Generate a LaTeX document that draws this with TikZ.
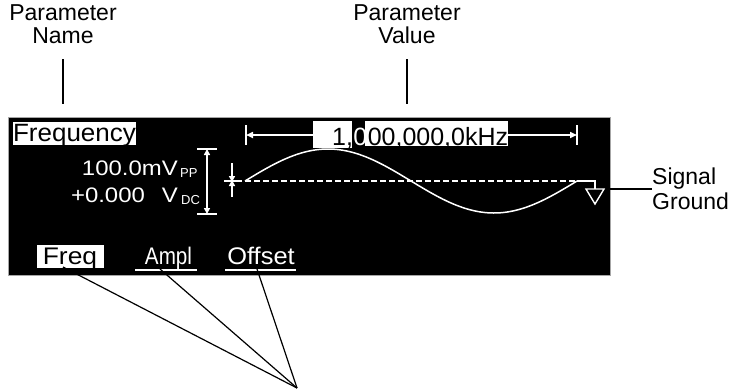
\documentclass[tikz,border=0pt]{standalone}
\usepackage{fontspec}
\usepackage{graphicx}
\setmainfont{Liberation Sans}
\usetikzlibrary{arrows.meta}
\newcommand\lcdtxt[3]{{\fontsize{#2}{#2}\selectfont\scalebox{#1}[1]{#3}}}
\begin{document}
\begin{tikzpicture}[x=1pt,y=-1pt,
  lblA/.style={font=\fontsize{23}{23}\selectfont, align=center, inner sep=0pt},
  lblB/.style={font=\fontsize{23}{25}\selectfont, align=left, inner sep=0pt},
  lcd/.style={text=white, inner sep=0pt},
  lcdinv/.style={text=black, inner sep=0pt},
  wline/.style={draw=white, line width=1.6pt},
  blk/.style={draw=black, line width=2pt},
  ptr/.style={draw=black, line width=1.2pt},
  tipr/.style={-{Triangle[length=7pt,width=6pt]}},
  tipb/.style={{Triangle[length=6pt,width=6pt]}-{Triangle[length=6pt,width=6pt]}}
]
\useasboundingbox (0,0) rectangle (733,389);

% outside labels
\node[lblA, anchor=north] (pname) at (63,4) {Parameter\\Name};
\node[lblA, anchor=north] (pvalue) at (407,4) {Parameter\\Value};
\node[lblB, anchor=north west] (sg) at (652,168) {Signal\\Ground};

% screen
\node[draw=gray!70, fill=black, line width=0.8pt, minimum width=602pt, minimum height=158pt, inner sep=0pt, anchor=north west] (scr) at (8,117) {};

% parameter name
\fill[white] (13,122) rectangle (136,145);
\node[lcdinv, anchor=base] (freqname) at (74.5,141) {\lcdtxt{1.04}{25}{Frequency}};

% parameter value
\fill[white] (313,121) rectangle (352,148);
\fill[white] (365,121) rectangle (508,146);
\node[lcdinv, anchor=base west] (v1) at (332,145) {\lcdtxt{1}{25}{1,}};
\node[lcd, anchor=base west] (v2) at (v1.base east) {\lcdtxt{1}{25}{0}};
\node[lcdinv, anchor=base west] (v3) at (v2.base east) {\lcdtxt{1}{25}{00,000,0kHz}};

% range arrows
\coordinate (rl) at (246,135);
\coordinate (rr) at (577,135);
\coordinate (vbl) at (313,135);
\coordinate (vbr) at (508,135);
\draw[wline] (246,125) -- (246,145);
\draw[wline] (577,125) -- (577,145);
\draw[wline, tipr] (vbl) -- (rl);
\draw[wline, tipr] (vbr) -- (rr);

% amplitude texts
\node[lcd, anchor=base east] (amp) at (178,175) {\lcdtxt{1.14}{21}{100.0mV}};
\node[lcd, anchor=base west] (ampsub) at (180,177) {\lcdtxt{1}{13}{PP}};
\node[lcd, anchor=base east] (off) at (178,202) {\lcdtxt{1.14}{21}{+0.000\hspace{9pt} V}};
\node[lcd, anchor=base west] (offsub) at (181,204) {\lcdtxt{1}{13}{DC}};

% amplitude bracket
\coordinate (ampT) at (207,149);
\coordinate (ampB) at (207,214);
\draw[wline] (197,149) -- (217,149);
\draw[wline] (197,214) -- (217,214);
\draw[wline, tipb] (ampT) -- (ampB);

% offset marker
\coordinate (ofT) at (232,163);
\coordinate (ofB) at (232,197);
\coordinate (ofC) at (232,181);
\draw[wline] (224,181) -- (242,181);
\draw[wline, -{Triangle[length=6pt,width=6pt]}] (ofT) -- ([yshift=-1pt]ofC);
\draw[wline, -{Triangle[length=6pt,width=6pt]}] (ofB) -- ([yshift=1pt]ofC);

% baseline and waveform
\draw[white, line width=1.3pt, dash pattern=on 6pt off 3pt] (245,181) -- (577,181);
\draw[wline, line width=1.5pt] plot[domain=0:332, samples=120] ({245+\x}, {181-32*sin(1.08434*\x)});

% ground symbol
\draw[wline, line width=1.4pt] (577,181) -- (595,181) -- (595,189);
\draw[wline, line width=1.4pt] (586,189) -- (604,189) -- (595,204) -- cycle;

% signal ground connector
\coordinate (scrR) at (610,189);
\draw[blk] (scrR) -- (scrR -| sg.west);

% parameter connectors
\coordinate (pnT) at (63,59);
\coordinate (pnB) at (63,104);
\coordinate (pvT) at (407,59);
\coordinate (pvB) at (407,104);
\draw[blk] (pnT) -- (pnB);
\draw[blk] (pvT) -- (pvB);

% soft keys
\fill[white] (37,245) rectangle (104,268);
\node[lcdinv, anchor=base] (kfreq) at (70,264) {\lcdtxt{1.1}{24}{Freq}};
\node[lcd, anchor=base] (kampl) at (168.5,264) {\lcdtxt{0.86}{24}{Ampl}};
\node[lcd, anchor=base] (koff) at (261,264) {\lcdtxt{1.06}{24}{Offset}};
\draw[wline] (135,270) -- (197,270);
\draw[wline] (225,270) -- (296,270);

% pointers to keys
\coordinate (conv) at (297,388);
\coordinate (pf) at (63,267);
\coordinate (pa) at (160,269);
\coordinate (po) at (257,269);
\draw[ptr] (pf) -- (conv);
\draw[ptr] (pa) -- (conv);
\draw[ptr] (po) -- (conv);
\end{tikzpicture}
\end{document}
